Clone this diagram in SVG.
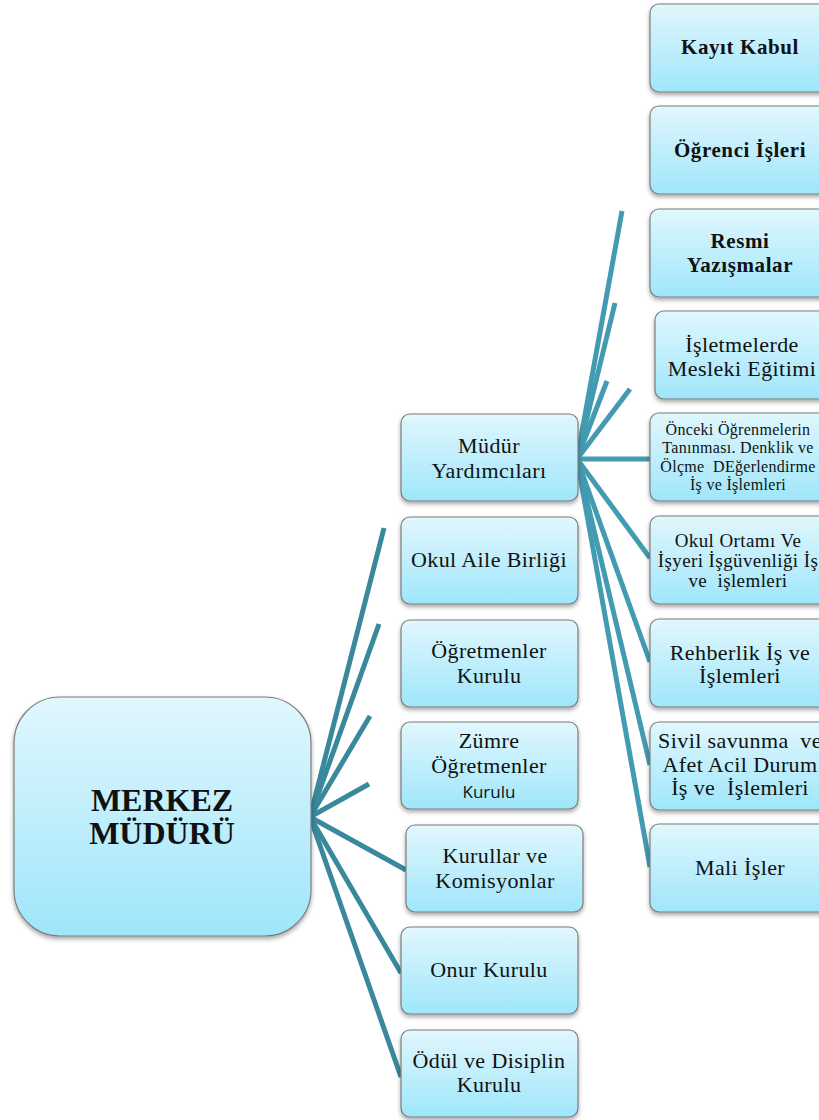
<svg xmlns="http://www.w3.org/2000/svg" width="819" height="1120" viewBox="0 0 819 1120">
<defs>
<linearGradient id="g" x1="0" y1="0" x2="0" y2="1">
<stop offset="0" stop-color="#e1f7fd"/>
<stop offset="1" stop-color="#9fe6fb"/>
</linearGradient>
<filter id="sh" x="-10%" y="-10%" width="120%" height="125%">
<feDropShadow dx="0" dy="2.5" stdDeviation="2" flood-color="#000" flood-opacity="0.35"/>
</filter>
<style>
.b{fill:url(#g);stroke:#7d7d7d;stroke-width:1.2;filter:url(#sh)}
.t{font-family:"Liberation Serif","DejaVu Serif",serif;font-size:22px;letter-spacing:0.4px;fill:#111;text-anchor:middle;white-space:pre}
.tb{font-weight:bold;font-size:21px;letter-spacing:0.6px}
.ts{font-size:16px;letter-spacing:0.3px}
.tm{font-size:19px;letter-spacing:0.4px}
.big{font-size:32px;font-weight:bold;letter-spacing:0}
.sans{font-family:"Open Sans","Liberation Sans",sans-serif;font-size:17px;letter-spacing:0}
.c1{stroke:#3a889c;stroke-width:5;stroke-linecap:butt;fill:none}
.c2{stroke:#439bb1;stroke-width:5;stroke-linecap:butt;fill:none}
</style>
</defs>
<rect width="819" height="1120" fill="#fff"/>
<g id="connectors">
<line class="c1" x1="310" y1="817" x2="384" y2="528"/>
<line class="c1" x1="310" y1="817" x2="379" y2="624"/>
<line class="c1" x1="310" y1="817" x2="370" y2="716"/>
<line class="c1" x1="310" y1="817" x2="369" y2="784"/>
<line class="c1" x1="310" y1="817" x2="406" y2="870"/>
<line class="c1" x1="310" y1="817" x2="401" y2="973"/>
<line class="c1" x1="310" y1="817" x2="401" y2="1077"/>
<line class="c2" x1="577" y1="459" x2="622" y2="211"/>
<line class="c2" x1="577" y1="459" x2="615" y2="303"/>
<line class="c2" x1="577" y1="459" x2="607" y2="381"/>
<line class="c2" x1="577" y1="459" x2="630" y2="389"/>
<line class="c2" x1="577" y1="459" x2="651" y2="459"/>
<line class="c2" x1="577" y1="459" x2="650" y2="558"/>
<line class="c2" x1="577" y1="459" x2="650" y2="662"/>
<line class="c2" x1="577" y1="459" x2="650" y2="765"/>
<line class="c2" x1="577" y1="459" x2="650" y2="867"/>
</g>
<g id="merkez">
<rect class="b" x="14" y="697" width="297" height="239" rx="46"/>
<text class="t big" x="162" y="811">MERKEZ</text>
<text class="t big" x="162" y="844">MÜDÜRÜ</text>
</g>
<g id="mudur-yardimcilari">
<rect class="b" x="401" y="414" width="177" height="87" rx="9"/>
<text class="t" x="489" y="453">Müdür</text>
<text class="t" x="489" y="478">Yardımcıları</text>
</g>
<g id="okul-aile">
<rect class="b" x="401" y="517" width="177" height="87" rx="9"/>
<text class="t" x="489" y="567">Okul Aile Birliği</text>
</g>
<g id="ogretmenler-kurulu">
<rect class="b" x="401" y="620" width="177" height="87" rx="9"/>
<text class="t" x="489" y="658">Öğretmenler</text>
<text class="t" x="489" y="683">Kurulu</text>
</g>
<g id="zumre">
<rect class="b" x="401" y="722" width="177" height="87" rx="9"/>
<text class="t" x="489" y="748">Zümre</text>
<text class="t" x="489" y="773">Öğretmenler</text>
<text class="t sans" x="489" y="798">Kurulu</text>
</g>
<g id="kurullar">
<rect class="b" x="406" y="825" width="177" height="87" rx="9"/>
<text class="t" x="495" y="863">Kurullar ve</text>
<text class="t" x="495" y="888">Komisyonlar</text>
</g>
<g id="onur">
<rect class="b" x="401" y="927" width="177" height="87" rx="9"/>
<text class="t" x="489" y="977">Onur Kurulu</text>
</g>
<g id="odul">
<rect class="b" x="401" y="1030" width="177" height="87" rx="9"/>
<text class="t" x="489" y="1068">Ödül ve Disiplin</text>
<text class="t" x="489" y="1092">Kurulu</text>
</g>
<g id="kayit-kabul">
<rect class="b" x="650" y="4" width="182" height="88" rx="9"/>
<text class="t tb" x="740" y="54">Kayıt Kabul</text>
</g>
<g id="ogrenci-isleri">
<rect class="b" x="650" y="106" width="182" height="88" rx="9"/>
<text class="t tb" x="740" y="157">Öğrenci İşleri</text>
</g>
<g id="resmi">
<rect class="b" x="650" y="209" width="182" height="88" rx="9"/>
<text class="t tb" x="740" y="248">Resmi</text>
<text class="t tb" x="740" y="272">Yazışmalar</text>
</g>
<g id="isletmelerde">
<rect class="b" x="655" y="311" width="182" height="88" rx="9"/>
<text class="t" x="742" y="352">İşletmelerde</text>
<text class="t" x="742" y="376">Mesleki Eğitimi</text>
</g>
<g id="onceki">
<rect class="b" x="650" y="413" width="182" height="88" rx="9"/>
<text class="t ts" x="738" y="435">Önceki Öğrenmelerin</text>
<text class="t ts" x="738" y="453">Tanınması. Denklik ve</text>
<text class="t ts" x="738" y="472">Ölçme  DEğerlendirme</text>
<text class="t ts" x="738" y="490">İş ve İşlemleri</text>
</g>
<g id="okul-ortami">
<rect class="b" x="650" y="516" width="182" height="88" rx="9"/>
<text class="t tm" x="738" y="547">Okul Ortamı Ve</text>
<text class="t tm" x="738" y="567">İşyeri İşgüvenliği İş</text>
<text class="t tm" x="738" y="587">ve  işlemleri</text>
</g>
<g id="rehberlik">
<rect class="b" x="650" y="619" width="182" height="88" rx="9"/>
<text class="t" x="740" y="660">Rehberlik İş ve</text>
<text class="t" x="740" y="683">İşlemleri</text>
</g>
<g id="sivil">
<rect class="b" x="650" y="722" width="182" height="88" rx="9"/>
<text class="t" x="740" y="748">Sivil savunma  ve</text>
<text class="t" x="740" y="772">Afet Acil Durum</text>
<text class="t" x="740" y="795">İş ve  İşlemleri</text>
</g>
<g id="mali">
<rect class="b" x="650" y="824" width="182" height="88" rx="9"/>
<text class="t" x="740" y="875">Mali İşler</text>
</g>
</svg>
